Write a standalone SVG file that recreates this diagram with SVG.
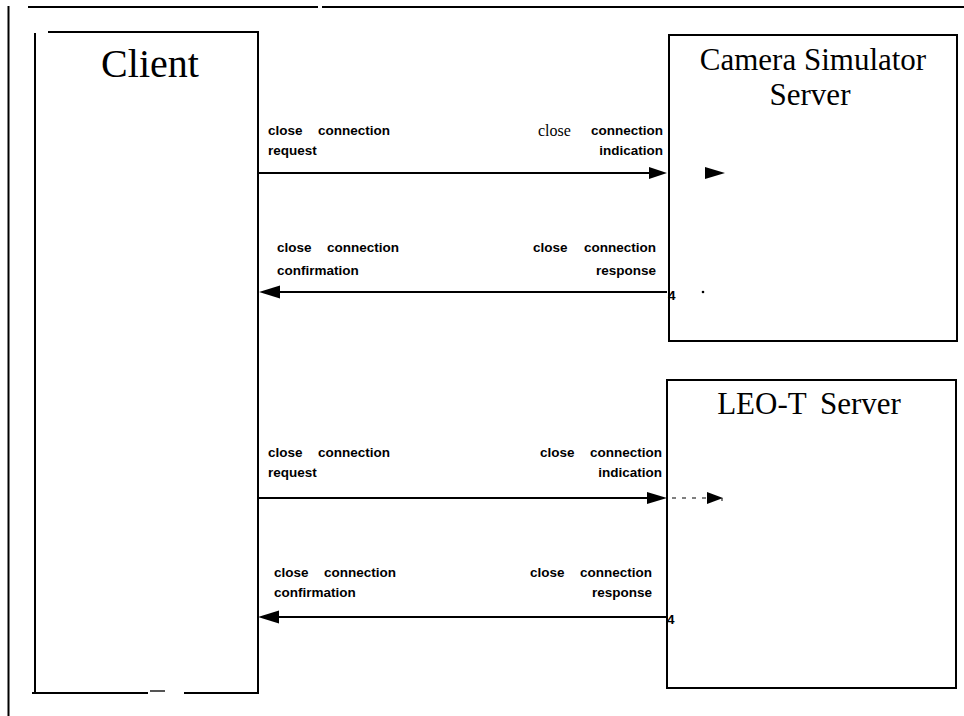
<svg xmlns="http://www.w3.org/2000/svg" width="964" height="716" viewBox="0 0 964 716">
<style>
.ln{stroke:#000;stroke-width:2;fill:none}
.lbl{font-family:"Liberation Sans",Arial,sans-serif;font-weight:bold;font-size:13.5px;fill:#000}
.ttl{font-family:"Liberation Serif","Times New Roman",serif;fill:#000}
.ah{fill:#000}
</style>
<rect width="964" height="716" fill="#fff"/>
<g id="frame">
<line class="ln" x1="28" y1="7" x2="318" y2="7"/>
<line class="ln" x1="322" y1="7" x2="964" y2="7"/>
<line class="ln" x1="8.5" y1="6" x2="8.5" y2="716"/>
</g>
<g id="client">
<line class="ln" x1="48" y1="32" x2="259" y2="32"/>
<line class="ln" x1="35" y1="33" x2="35" y2="693"/>
<line class="ln" x1="258" y1="31" x2="258" y2="693"/>
<line class="ln" x1="32" y1="693" x2="148" y2="693"/>
<line stroke="#555" stroke-width="2" x1="150" y1="691" x2="165" y2="691"/>
<line class="ln" x1="184" y1="693" x2="259" y2="693"/>
<text class="ttl" x="150" y="77" font-size="40" text-anchor="middle">Client</text>
</g>
<g id="camera">
<rect class="ln" x="669" y="35" width="288" height="306"/>
<text class="ttl" x="813" y="70" font-size="31" text-anchor="middle">Camera Simulator</text>
<text class="ttl" x="810" y="105" font-size="31" text-anchor="middle">Server</text>
</g>
<g id="leot">
<rect class="ln" x="667" y="380" width="289" height="308"/>
<text class="ttl" x="809" y="414" font-size="31" text-anchor="middle" word-spacing="6">LEO-T Server</text>
</g>
<g id="connectors">
<line class="ln" x1="258" y1="173" x2="652" y2="173"/>
<polygon class="ah" points="667,173 649,167 649,179"/>
<polygon class="ah" points="725,173 705,167 705,179"/>
<line class="ln" x1="278" y1="292" x2="667" y2="292"/>
<polygon class="ah" points="259,292 280,285.5 280,298.5"/>
<circle class="ah" cx="703" cy="292" r="1.3"/>
<line class="ln" x1="258" y1="498" x2="650" y2="498"/>
<polygon class="ah" points="667,498 647,492 647,504"/>
<line stroke="#000" stroke-width="1" stroke-dasharray="4,6" x1="672" y1="498" x2="707" y2="498"/>
<polygon class="ah" points="723,498 707,492 707,504"/>
<line stroke="#000" stroke-width="1" x1="722" y1="498" x2="722" y2="501"/>
<line class="ln" x1="276" y1="617" x2="667" y2="617"/>
<polygon class="ah" points="258,617 279,610.5 279,623.5"/>
</g>
<g id="labels">
<text class="lbl" x="268" y="135">close</text>
<text class="lbl" x="318" y="135">connection</text>
<text class="lbl" x="268" y="155">request</text>
<text class="ttl" x="538" y="136" font-size="16">close</text>
<text class="lbl" x="663" y="135" text-anchor="end">connection</text>
<text class="lbl" x="663" y="155" text-anchor="end">indication</text>

<text class="lbl" x="277" y="252">close</text>
<text class="lbl" x="327" y="252">connection</text>
<text class="lbl" x="277" y="275">confirmation</text>
<text class="lbl" x="533" y="252">close</text>
<text class="lbl" x="656" y="252" text-anchor="end">connection</text>
<text class="lbl" x="656" y="275" text-anchor="end">response</text>
<text class="lbl" x="668" y="300" font-size="14">4</text>

<text class="lbl" x="268" y="457">close</text>
<text class="lbl" x="318" y="457">connection</text>
<text class="lbl" x="268" y="477">request</text>
<text class="lbl" x="540" y="457">close</text>
<text class="lbl" x="662" y="457" text-anchor="end">connection</text>
<text class="lbl" x="662" y="477" text-anchor="end">indication</text>

<text class="lbl" x="274" y="577">close</text>
<text class="lbl" x="324" y="577">connection</text>
<text class="lbl" x="274" y="597">confirmation</text>
<text class="lbl" x="530" y="577">close</text>
<text class="lbl" x="652" y="577" text-anchor="end">connection</text>
<text class="lbl" x="652" y="597" text-anchor="end">response</text>
<text class="lbl" x="667" y="624" font-size="14">4</text>
</g>
</svg>
